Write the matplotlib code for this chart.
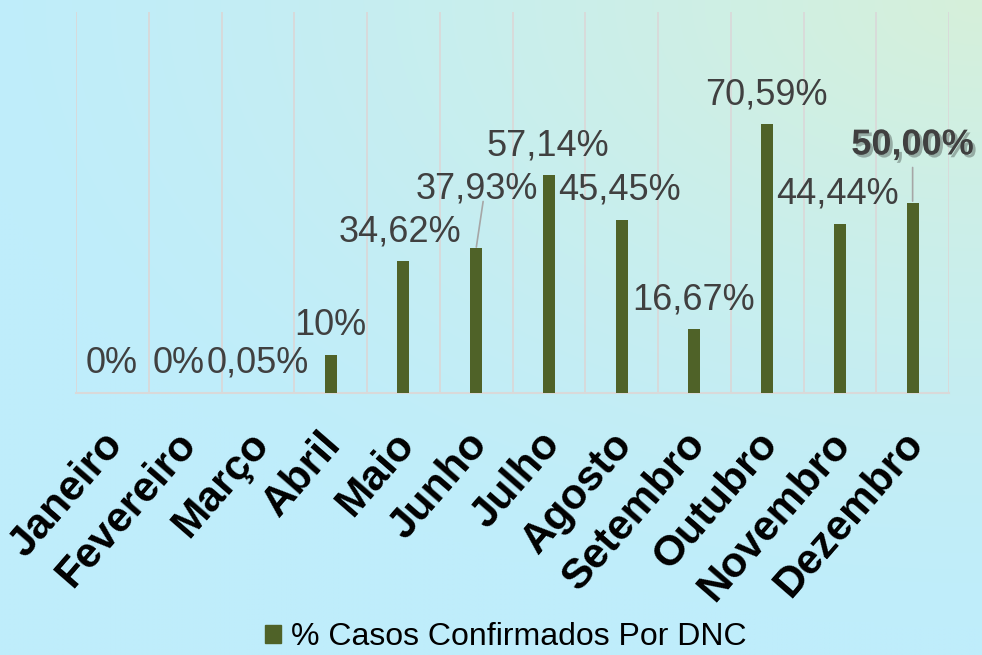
import numpy as np
import matplotlib
matplotlib.use("Agg")
import matplotlib.pyplot as plt
import matplotlib.patheffects as pe
from matplotlib.patches import Patch
from matplotlib.transforms import ScaledTranslation

months = ["Janeiro", "Fevereiro", "Março", "Abril", "Maio", "Junho", "Julho",
          "Agosto", "Setembro", "Outubro", "Novembro", "Dezembro"]
values = [0, 0, 0.05, 10, 34.62, 37.93, 57.14, 45.45, 16.67, 70.59, 44.44, 50.00]
labels = ["0%", "0%", "0,05%", "10%", "34,62%", "37,93%", "57,14%", "45,45%",
          "16,67%", "70,59%", "44,44%", "50,00%"]
series_name = "% Casos Confirmados Por DNC"

# label offsets (pixels) relative to bar top centre
label_dx = [-1, -6, 0, 0, -3, 1, -1, -2, -1, -1, -2, 0]
label_dy = [20, 20, 20, 20, 20, 50, 20, 20, 20, 20, 20, 48]

bar_color = "#4F6228"
text_color = "#404040"
grid_color = "#D9D9D9"

plt.rcParams["font.family"] = ["Liberation Sans", "DejaVu Sans"]

fig = plt.figure(figsize=(9.82, 6.55), dpi=100)

# background gradient
bg = fig.add_axes([0, 0, 1, 1], zorder=-10)
H, W = 131, 196
yy, xx = np.mgrid[0:H, 0:W]
xn = xx / (W - 1)
yn = yy / (H - 1)
d = np.sqrt((1 - xn) ** 2 * 1.0 + (yn) ** 2 * 1.2)
w = np.clip(1 - d / 1.05, 0, 1) ** 1.3
c0 = np.array([0xBF, 0xED, 0xFB]) / 255
c1 = np.array([0xD6, 0xF0, 0xDA]) / 255
img = c0[None, None, :] * (1 - w[..., None]) + c1[None, None, :] * w[..., None]
bg.imshow(img, aspect="auto", extent=[0, 1, 0, 1], origin="upper", interpolation="bilinear")
bg.set_axis_off()

ax = fig.add_axes([76 / 982, 1 - 393 / 655, (949 - 76) / 982, (393 - 12) / 655])
ax.patch.set_alpha(0)
x = np.arange(len(months))
bars = ax.bar(x, values, width=0.165, color=bar_color, zorder=3, label=series_name)
ax.set_xlim(-0.5, len(months) - 0.5)
ax.set_ylim(0, 100)

for b in np.arange(-0.5, len(months), 1.0):
    ax.axvline(b, color=grid_color, lw=1.3, zorder=1)
for s in ["top", "right", "left"]:
    ax.spines[s].set_visible(False)
ax.spines["bottom"].set_color(grid_color)
ax.spines["bottom"].set_linewidth(1.5)
ax.set_yticks([])
ax.set_xticks(x)
ax.set_xticklabels(months, rotation=49, ha="right", va="center",
                   rotation_mode="anchor", fontsize=30.5, fontweight="bold", color="black")
ax.tick_params(axis="x", length=0, pad=32)
off = ScaledTranslation(4 / 100, 0, fig.dpi_scale_trans)
for lab in ax.get_xticklabels():
    lab.set_transform(lab.get_transform() + off)

for i, (v, lab) in enumerate(zip(values, labels)):
    bold = i == len(values) - 1
    kw = dict(fontsize=26, color=text_color, ha="center", va="baseline",
              textcoords="offset pixels", annotation_clip=False, zorder=5)
    if bold:
        kw.update(fontweight="bold",
                  path_effects=[pe.SimplePatchShadow(offset=(2, -2), alpha=0.3), pe.Normal()])
    ax.annotate(lab, xy=(x[i], v), xytext=(label_dx[i], label_dy[i]), **kw)

# leader lines for moved labels (Junho, Dezembro)
ax.annotate("", xy=(x[5], values[5]), xytext=(7, 47), textcoords="offset pixels",
            arrowprops=dict(arrowstyle="-", color="#A6A6A6", lw=1.2, shrinkA=0, shrinkB=1))
ax.annotate("", xy=(x[11], values[11]), xytext=(0, 35), textcoords="offset pixels",
            arrowprops=dict(arrowstyle="-", color="#A6A6A6", lw=1.2, shrinkA=0, shrinkB=1))

handle = Patch(color=bar_color)
fig.legend([handle], [series_name], loc="center", bbox_to_anchor=(0.515, 0.027),
           frameon=False, fontsize=23, handlelength=0.5, handleheight=0.5,
           handletextpad=0.3, labelcolor="black")

fig.savefig("out.png", dpi=100)
